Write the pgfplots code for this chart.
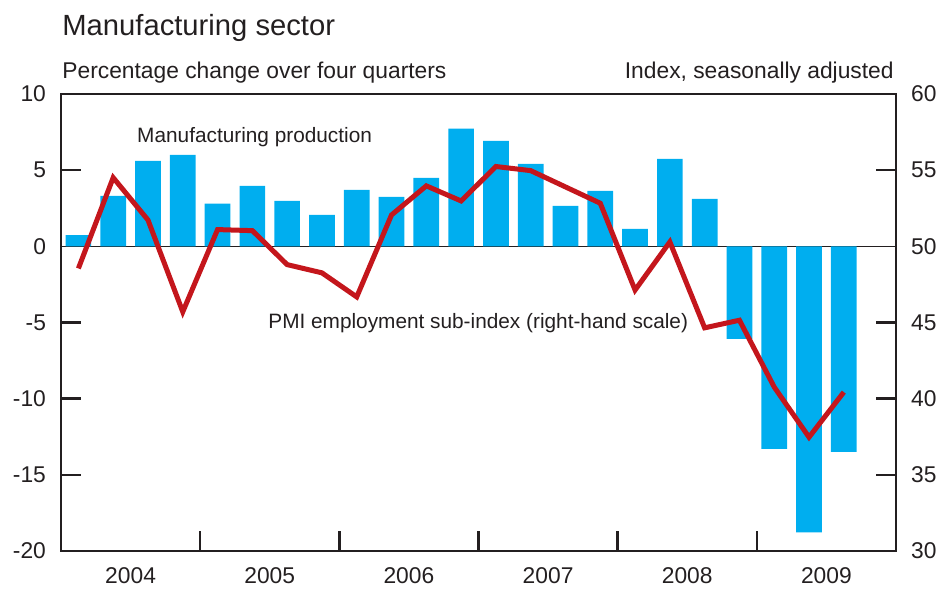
\documentclass[border=0pt]{standalone}
\usepackage{fontspec}
\setmainfont{Liberation Sans}
\usepackage{pgfplots}
\pgfplotsset{compat=1.18}
\definecolor{barblue}{HTML}{00AEEF}
\definecolor{linered}{HTML}{C4161C}
\definecolor{txt}{HTML}{231F20}
\begin{document}
\begin{tikzpicture}[font=\fontsize{11.4}{13}\selectfont]
\path[use as bounding box] (-30.5pt,-19.5pt) rectangle (440pt,275.5pt);
\pgfplotsset{
  common/.style={
    width=417.5pt, height=228.5pt, scale only axis,
    xmin=0, xmax=24,
    /pgf/number format/assume math mode=true,
    tick align=inside,
    major tick length=10pt,
    axis line style={line width=1.2pt, color=txt},
    tick style={line width=1.2pt, color=txt},
    ticklabel style={color=txt, font=\fontsize{11.4}{13}\selectfont},
  }
}
\begin{axis}[common,
  ymin=-20, ymax=10,
  ytick={-20,-15,-10,-5,5,10},
  ytick pos=left, xtick pos=bottom,
  yticklabel style={xshift=-4pt},
  extra y ticks={0},
  extra y tick style={major tick length=0pt, grid=major, major grid style={line width=0.6pt, color=txt}},
  xtick={4,8,12,16,20}, xticklabels={},
  extra x ticks={2,6,10,14,18,22},
  extra x tick labels={2004,2005,2006,2007,2008,2009},
  extra x tick style={major tick length=0pt, xticklabel style={yshift=-5pt}},
]
\addplot[ybar, bar width=12.85pt, fill=barblue, draw=none] coordinates {
(0.5,0.74) (1.5,3.31) (2.5,5.61) (3.5,6.0)
(4.5,2.80) (5.5,3.97) (6.5,2.98) (7.5,2.06)
(8.5,3.70) (9.5,3.24) (10.5,4.49) (11.5,7.72)
(12.5,6.93) (13.5,5.41) (14.5,2.65) (15.5,3.64)
(16.5,1.14) (17.5,5.74) (18.5,3.11) (19.5,-6.08)
(20.5,-13.3) (21.5,-18.77) (22.5,-13.5)
};
\node[anchor=base west, inner sep=0pt, color=txt, font=\fontsize{10.4}{12}\selectfont] at (axis cs:2.18,6.8) {Manufacturing production};
\node[anchor=base west, inner sep=0pt, color=txt, font=\fontsize{10.4}{12}\selectfont] at (axis cs:5.95,-5.39) {PMI employment sub-index (right-hand scale)};
\end{axis}
\begin{axis}[common,
  ymin=30, ymax=60,
  axis x line=none, axis y line*=right,
  tick align=inside,
  ytick={30,35,40,45,55,60},
  yticklabel style={xshift=4pt},
  extra y ticks={50},
  extra y tick style={major tick length=0pt},
]
\addplot[line width=2.5pt, color=linered, line join=miter, mark=none] coordinates {
(0.5,48.55) (1.5,54.51) (2.5,51.73) (3.5,45.7)
(4.5,51.1) (5.5,51.03) (6.5,48.8) (7.5,48.26)
(8.5,46.68) (9.5,52.06) (10.5,53.97) (11.5,52.98)
(12.5,55.24) (13.5,54.97) (14.5,53.9) (15.5,52.83)
(16.5,47.13) (17.5,50.29) (18.5,44.65) (19.5,45.15)
(20.5,40.76) (21.5,37.47) (22.5,40.43)
};
\end{axis}
\node[anchor=base west, inner sep=0pt, color=txt, font=\fontsize{14.6}{17}\selectfont] at (0.5pt,257.5pt) {Manufacturing sector};
\node[anchor=base west, inner sep=0pt, color=txt] at (0.5pt,236pt) {Percentage change over four quarters};
\node[anchor=base east, inner sep=0pt, color=txt] at (416.5pt,236pt) {Index, seasonally adjusted};
\end{tikzpicture}
\end{document}
